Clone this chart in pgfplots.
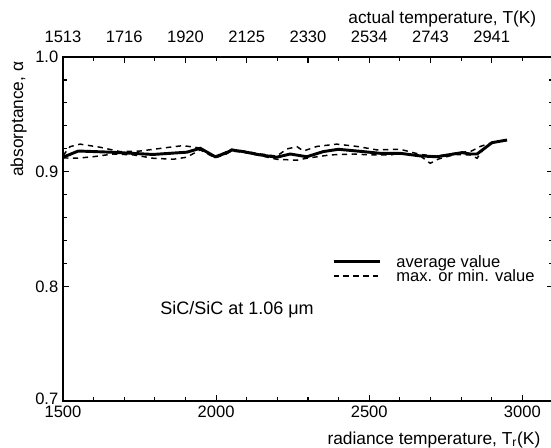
\documentclass[border=0pt]{standalone}
\usepackage{pgfplots}
\pgfplotsset{compat=1.18}
\usepackage{fontspec}
\setmainfont{Liberation Sans}
\begin{document}
\begin{tikzpicture}
\pgfplotsset{
  every axis/.append style={
    scale only axis, width=367.5pt, height=258pt,
    xmin=1500, xmax=3100, ymin=0.7, ymax=1.0,
    font=\fontsize{12.4}{14}\selectfont,
    tick align=inside,
    /pgf/number format/assume math mode=true,
    /pgf/number format/1000 sep={},
    major tick length=4.5pt, minor tick length=2.7pt,
    axis line style={line width=1.5pt},
    every tick/.style={line width=0.9pt, black},
  }
}
\begin{axis}[
  xtick={1500,2000,2500,3000}, minor x tick num=4, xtick pos=bottom,
  ytick={0.8,0.9,1.0}, minor y tick num=4, ytick pos=both, yticklabel pos=left,
  extra y ticks={0.7},
  extra y tick style={yticklabel style={/tikz/yshift=2pt}},
  yticklabel style={/pgf/number format/fixed, /pgf/number format/fixed zerofill, /pgf/number format/precision=1},
  xlabel={radiance temperature, T\textsubscript{r}(K)},
  xlabel style={at={(axis description cs:0.9837,-0.126)}, anchor=base east, font=\fontsize{13}{15}\selectfont},
  ylabel={absorptance, α},
  ylabel style={at={(axis description cs:-0.0816,1)}, anchor=base east, rotate=0, font=\fontsize{13}{15}\selectfont},
  legend style={at={(axis cs:2378,0.8272)}, anchor=north west, draw=none, fill=none,
    inner sep=0pt, row sep=2.3pt,
    nodes={inner sep=0pt, text height=8.7pt, text depth=0pt},
    /tikz/every odd column/.append style={column sep=11pt}},
  legend cell align=left,
  legend image code/.code={\draw[#1] (0pt,0pt) -- (35pt,0pt);},
]
\addplot[black, line width=2.2pt] coordinates {
(1500,0.9126) (1550,0.918) (1654,0.917) (1794,0.915) (1905,0.917) (1948,0.9204)
(1997,0.913) (2030,0.916) (2051,0.9189) (2088,0.9175) (2144,0.9146) (2198,0.9126)
(2242,0.9154) (2296,0.913) (2350,0.9175) (2399,0.9195) (2480,0.9175) (2536,0.916)
(2601,0.916) (2667,0.9137) (2721,0.913) (2803,0.9166) (2830,0.9154) (2852,0.9154)
(2901,0.9253) (2950,0.9276)};
\addlegendentry{average value}
\addplot[black, line width=1.1pt, dash pattern=on 4pt off 3.4pt] coordinates {
(1500,0.914) (1523,0.9218) (1556,0.924) (1621,0.9213) (1686,0.9175) (1752,0.918)
(1839,0.921) (1892,0.9227) (1937,0.921) (1948,0.9204) (1997,0.913) (2030,0.917)
(2051,0.9195) (2088,0.918) (2144,0.9155) (2198,0.9135) (2231,0.9198) (2264,0.9218)
(2285,0.918) (2329,0.922) (2394,0.924) (2460,0.922) (2525,0.919) (2601,0.9195)
(2667,0.915) (2721,0.9135) (2803,0.917) (2830,0.9175) (2863,0.922) (2901,0.9253)};
\addlegendentry{max. or min. value}
\addplot[black, line width=1.1pt, dash pattern=on 4pt off 3.4pt, forget plot] coordinates {
(1500,0.912) (1545,0.9117) (1598,0.913) (1664,0.9154) (1730,0.9146) (1794,0.9117)
(1860,0.9108) (1904,0.9126) (1948,0.919) (1997,0.912) (2030,0.915) (2051,0.918)
(2088,0.917) (2144,0.914) (2198,0.9108) (2264,0.910) (2296,0.9117) (2372,0.9146)
(2449,0.9154) (2503,0.9146) (2569,0.9146) (2601,0.916) (2667,0.9137) (2699,0.9073)
(2726,0.911) (2780,0.915) (2830,0.9146) (2852,0.9117) (2874,0.920) (2901,0.9253)};
\node[anchor=base west, inner sep=0pt, font=\fontsize{13.5}{15}\selectfont] at (axis cs:1817,0.775) {SiC/SiC at 1.06 μm};
\end{axis}
\begin{axis}[
  axis x line*=top, axis y line=none,
  xtick={1500,1700,1900,2100,2300,2500,2700,2900},
  xticklabels={1513,1716,1920,2125,2330,2534,2743,2941},
  xticklabel style={yshift=7.3pt},
  minor xtick={1600,1800,2000,2200,2400,2600,2800,3000},
  xlabel={actual temperature, T(K)},
  xlabel style={at={(axis description cs:0.9755,1.097)}, anchor=base east, font=\fontsize{13}{15}\selectfont},
]
\addplot[draw=none, forget plot] coordinates {(1500,0.8) (3100,0.8)};
\end{axis}
\pgfresetboundingbox
\path (-47.25pt,-35.25pt) rectangle (366pt,300.75pt);
\end{tikzpicture}
\end{document}
